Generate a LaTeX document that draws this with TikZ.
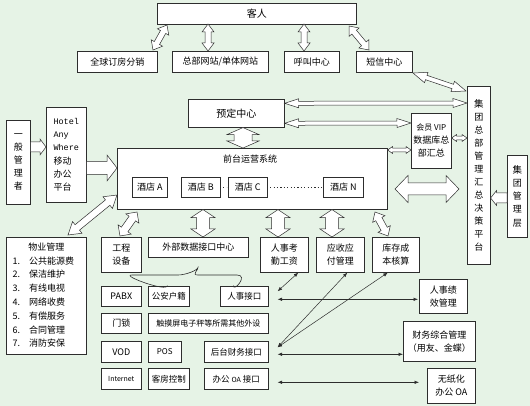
\documentclass[tikz,border=0pt]{standalone}
\usepackage{fontspec}
\setmainfont{Noto Sans CJK SC}
\newfontfamily\hmono{Liberation Mono}
\usetikzlibrary{arrows.meta,calc}
\definecolor{bg}{RGB}{230,243,230}
\definecolor{ln}{RGB}{45,45,45}
\newcommand\fs[1]{\fontsize{#1}{1.45\dimexpr#1pt\relax}\selectfont}
% double block arrow: #1 start, #2 end, #3 shaft half, #4 head half, #5 head length
\newcommand\DArr[5]{%
  \path #1 coordinate (dasA) #2 coordinate (dasB);
  \pgfpointdiff{\pgfpointanchor{dasA}{center}}{\pgfpointanchor{dasB}{center}}%
  \pgfgetlastxy{\dax}{\day}%
  \pgfmathsetmacro\daang{atan2(\day,\dax)}%
  \pgfmathsetmacro\dalen{veclen(\dax,\day)}%
  \begin{scope}[shift={(dasA)},rotate=\daang]
    \draw[barr] (0pt,0pt) -- (#5pt,#4pt) -- (#5pt,#3pt) -- ({\dalen pt-#5pt},#3pt)
      -- ({\dalen pt-#5pt},#4pt) -- (\dalen pt,0pt) -- ({\dalen pt-#5pt},-#4pt)
      -- ({\dalen pt-#5pt},-#3pt) -- (#5pt,-#3pt) -- (#5pt,-#4pt) -- cycle;
  \end{scope}}
% single block arrow
\newcommand\SArr[5]{%
  \path #1 coordinate (dasA) #2 coordinate (dasB);
  \pgfpointdiff{\pgfpointanchor{dasA}{center}}{\pgfpointanchor{dasB}{center}}%
  \pgfgetlastxy{\dax}{\day}%
  \pgfmathsetmacro\daang{atan2(\day,\dax)}%
  \pgfmathsetmacro\dalen{veclen(\dax,\day)}%
  \begin{scope}[shift={(dasA)},rotate=\daang]
    \draw[barr] (0pt,#3pt) -- ({\dalen pt-#5pt},#3pt) -- ({\dalen pt-#5pt},#4pt)
      -- (\dalen pt,0pt) -- ({\dalen pt-#5pt},-#4pt) -- ({\dalen pt-#5pt},-#3pt)
      -- (0pt,-#3pt) -- cycle;
  \end{scope}}
\tikzset{
  bx/.style={draw=ln, fill=white, line width=0.6pt, inner sep=1pt, align=center, font=\fs{9}},
  barr/.style={draw=ln, fill=white, line width=0.5pt, line join=miter},
  thin/.style={draw=ln, line width=0.5pt, {Latex[length=4.5pt,width=3.5pt]}-{Latex[length=4.5pt,width=3.5pt]}},
  dots/.style={draw=ln, line width=1.3pt, dash pattern=on 1.3pt off 2.1pt},
}
\newcommand\B[6]{\node[bx, anchor=north west, minimum width=#4pt, minimum height=#5pt] (#1) at (#2,#3) {#6};}
\begin{document}
\begin{tikzpicture}[x=1pt,y=-1pt]
\useasboundingbox[fill=bg] (0,0) rectangle (530,406);

% top row
\B{guest}{157}{3}{199}{21}{\fs{10}客人}
\B{qqdf}{77}{51}{80}{21}{全球订房分销}
\B{zbwz}{172}{51}{96}{21}{总部网站/单体网站}
\B{hjzx}{284}{51}{55}{21}{呼叫中心}
\B{dxzx}{356}{51}{56}{21}{短信中心}
\B{ydzx}{188}{99}{96}{28}{\fs{10}预定中心}

% front desk
\B{qt}{117}{148}{270}{61}{}
\node[font=\fs{9}] (qtt) at (250,159) {前台运营系统};
\B{hA}{132}{177}{35}{20}{酒店 A}
\B{hB}{181}{177}{39}{20}{酒店 B}
\B{hC}{228}{177}{39}{20}{酒店 C}
\B{hN}{323}{177}{40}{20}{酒店 N}
\draw[dots] ([xshift=2.5pt]hB.east) -- ([xshift=-1.5pt]hC.west);
\draw[dots] ([xshift=2.5pt]hC.east) -- ([xshift=-1.5pt]hN.west);

% left
\B{ybgl}{6}{120}{24}{84}{\fontsize{9}{14}\selectfont 一\\般\\管\\理\\者}
\node[bx, anchor=north west, minimum width=40pt, minimum height=95pt, align=left, inner sep=2pt] (hotel) at (46,107)
  {\fontsize{9}{13.8}\selectfont{\hmono\fontsize{8.5}{13.8}\selectfont Hotel}\\{\hmono\fontsize{8.5}{13.8}\selectfont Any}\\{\hmono\fontsize{8.5}{13.8}\selectfont Where}\\移动\\办公\\平台\hspace{12pt}};

% right
\B{vip}{411}{113}{40}{55}{\fontsize{8}{13.5}\selectfont 会员 VIP\\数据库总\\部汇总}
\B{jt}{467}{86}{23}{178}{\fontsize{9.5}{15}\selectfont 集\\团\\总\\部\\管\\理\\汇\\总\\决\\策\\平\\台}
\B{jtgl}{507}{155}{20}{82}{\fontsize{9.5}{13.5}\selectfont 集\\团\\管\\理\\层}

% property
\node[bx, anchor=north west, minimum width=80pt, minimum height=117pt] (wy) at (6,237)
  {\fontsize{9}{13.8}\selectfont\begin{tabular}{@{}l@{\hspace{9pt}}l@{\hspace{6pt}}}
   \multicolumn{2}{c}{物业管理\hspace{6pt}}\\
   1. & 公共能源费\\ 2. & 保洁维护\\ 3. & 有线电视\\ 4. & 网络收费\\
   5. & 有偿服务\\ 6. & 合同管理\\ 7. & 消防安保
  \end{tabular}};

% second row
\B{gc}{101}{237}{40}{35}{\fontsize{9}{13}\selectfont 工程\\设备}
\B{wb}{148}{237}{100}{20}{外部数据接口中心}
\B{rs}{260}{237}{48}{35}{\fontsize{9}{13}\selectfont 人事考\\勤工资}
\B{ys}{316}{237}{48}{35}{\fontsize{9}{13}\selectfont 应收应\\付管理}
\B{kc}{372}{237}{47}{35}{\fontsize{9}{13}\selectfont 库存成\\本核算}

% small boxes
\B{pabx}{101}{286}{40}{20}{PABX}
\B{gahj}{148}{286}{41}{20}{\fs{8.5}公安户籍}
\B{rsjk}{220}{286}{48}{20}{\fs{8.5}人事接口}
\B{ms}{101}{313}{40}{20}{门锁}
\B{cmp}{148}{313}{120}{20}{\fs{8}触摸屏电子秤等所需其他外设}
\B{vod}{101}{341}{40}{21}{VOD}
\B{pos}{148}{341}{33}{21}{\fs{8}POS}
\B{htcw}{204}{341}{64}{21}{\fs{8.5}后台财务接口}
\B{inet}{101}{368}{40}{21}{\fs{7}Internet}
\B{kfkz}{148}{368}{41}{21}{\fs{8.5}客房控制}
\B{bgoa}{204}{368}{64}{21}{\fs{8.5}办公 {\fs{7}OA} 接口}

\B{rsjx}{419}{279}{48}{34}{\fontsize{9}{13}\selectfont 人事绩\\效管理}
\B{cwzh}{403}{321}{72}{40}{\fontsize{9}{14}\selectfont 财务综合管理\\（用友、金蝶）}
\B{wzh}{427}{368}{48}{35}{\fontsize{9}{14}\selectfont 无纸化\\办公 OA}

% brace
\draw[ln, line width=0.6pt] ([shift={(-31pt,-28pt)}]wb.south)
  .. controls +(0,7) and +(-12,0) .. (132,275) -- (178,275)
  .. controls +(7,0) and +(0,4) .. ([yshift=-9pt]wb.south)
  .. controls +(0,4) and +(-7,0) .. (198,275) -- (237,275)
  .. controls +(12,0) and +(0,7) .. ([shift={(35pt,-28pt)}]wb.south);

% block arrows top
\DArr{(153,50)}{(167,25)}{3}{6.5}{8}
\DArr{(208,51)}{(208,24)}{3}{6}{8}
\DArr{(304,51)}{(304,24)}{3}{6}{8}
\DArr{(369,50)}{(349,26)}{3}{6.5}{8}
\DArr{([yshift=10pt]ydzx.east)}{(jt.west |- 0,103)}{2}{4.5}{14}
\DArr{([yshift=-10pt]ydzx.east)}{(vip.west |- 0,123)}{2}{4.5}{14}
\DArr{(413,73)}{(466,91)}{2.3}{5.5}{14}
\DArr{(ydzx.south -| 243,0)}{(qt.north -| 243,0)}{9}{16}{7}
\DArr{(qt.east |- 0,150)}{(vip.west |- 0,150)}{1.8}{3.5}{5}
\DArr{(vip.east |- 0,138)}{(jt.west |- 0,138)}{1.8}{3.5}{5}
\DArr{(395,189)}{(459,189)}{6}{13.5}{13}
\SArr{(ybgl.east |- 0,147)}{(hotel.west |- 0,147)}{5}{8}{6}
\SArr{(hotel.east |- 0,168)}{(qt.west |- 0,168)}{6.5}{13}{10}
\SArr{(jtgl.west |- 0,198)}{(jt.east |- 0,198)}{5}{7.5}{6}
\DArr{(68,235)}{(117,195)}{3.5}{7.5}{12}
\DArr{(120,236)}{(137,212)}{4}{8}{8}
\DArr{(qt.south -| 203,0)}{(wb.north -| 203,0)}{6.5}{12}{8}
\DArr{(qt.south -| 278,0)}{(rs.north -| 278,0)}{6.5}{12}{8}
\DArr{(qt.south -| 332,0)}{(ys.north -| 332,0)}{6.5}{12}{8}
\DArr{(375,212)}{(388,236)}{3.5}{7}{8}

% thin arrows
\draw[thin] ([xshift=14pt]rs.south) -- ([shift={(9pt,5pt)}]rsjk.east);
\draw[thin] ([shift={(9pt,-3pt)}]rsjk.east) -- ([shift={(-1pt,-3pt)}]rsjx.west);
\draw[thin] ([xshift=7pt]ys.south) -- ([shift={(9pt,4.5pt)}]htcw.east);
\draw[thin] ([xshift=-8pt]kc.south) -- ([shift={(9pt,4.5pt)}]htcw.east);
\draw[thin] ([shift={(9pt,-2.5pt)}]htcw.east) -- ([yshift=-13pt]cwzh.west);
\draw[thin] ([shift={(9pt,-3.5pt)}]bgoa.east) -- ([shift={(-8pt,3.5pt)}]wzh.west);
\end{tikzpicture}
\end{document}
